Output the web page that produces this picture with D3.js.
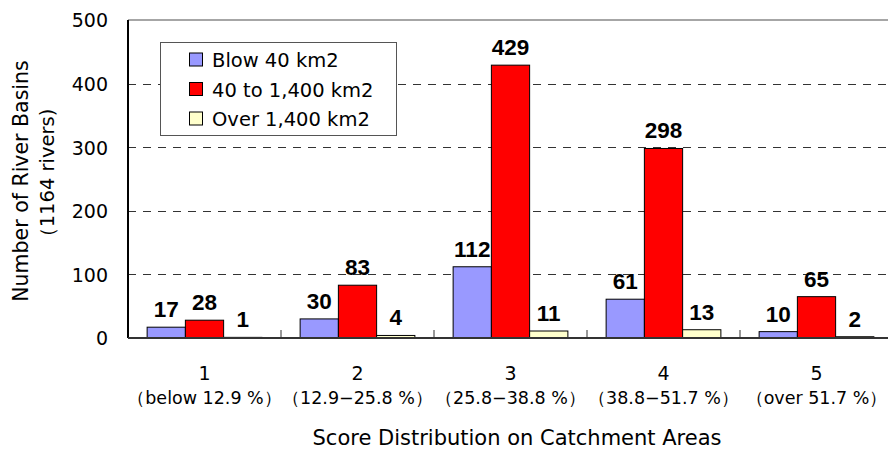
<!DOCTYPE html>
<html><head><meta charset="utf-8">
<script src="https://cdn.jsdelivr.net/npm/d3@7"></script>
<style>body{margin:0;background:#fff}</style>
</head><body>
<svg id="c" width="888" height="450"></svg>
<script>
const categories = ["1","2","3","4","5"];
const catSub = ["（below 12.9 %）","（12.9−25.8 %）","（25.8−38.8 %）","（38.8−51.7 %）","（over 51.7 %）"];
const seriesNames = ["Blow 40 km2","40 to 1,400 km2","Over 1,400 km2"];
const below40 = [17,30,112,61,10];
const mid = [28,83,429,298,65];
const over = [1,4,11,13,2];
const yTicks = [0,100,200,300,400,500];
const colors = ["#9999FF","#FF0000","#FFFFCC"];
const series = [below40, mid, over];

const svg = d3.select("#c");
const L = 128, R = 893, T = 20, B = 338;
const x0 = d3.scaleBand().domain(categories).range([L,R]).padding(0);
const bw = x0.bandwidth()*0.25;
const y = d3.scaleLinear().domain([0,500]).range([B,T]);
const txtFont = "'DejaVu Sans', sans-serif";
const boldFont = "'Liberation Sans', Arial, sans-serif";

// gridlines
svg.append("g").selectAll("line").data(yTicks.filter(d=>d>0&&d<500)).join("line")
  .attr("x1",L).attr("x2",888).attr("y1",d=>Math.round(y(d))+0.5).attr("y2",d=>Math.round(y(d))+0.5)
  .attr("stroke","#333").attr("stroke-width",1).attr("stroke-dasharray","8,7");
// top line
svg.append("line").attr("x1",L).attr("x2",888).attr("y1",y(500)).attr("y2",y(500))
  .attr("stroke","#888").attr("stroke-width",1.5);

// bars
categories.forEach((c,i)=>{
  const cx = x0(c)+x0.bandwidth()/2;
  series.forEach((s,j)=>{
    const bx = cx - 1.5*bw + j*bw;
    svg.append("rect").attr("x",bx).attr("y",y(s[i])).attr("width",bw).attr("height",B-y(s[i]))
      .attr("fill",colors[j]).attr("stroke","#000").attr("stroke-width",1);
    svg.append("text").attr("x",bx+bw/2).attr("y",y(s[i])-10).attr("text-anchor","middle")
      .attr("font-family",boldFont).attr("font-weight","bold").attr("font-size",22.5)
      .text(s[i]);
  });
});

// axes
const yAxis = d3.axisLeft(y).tickValues(yTicks).tickSize(0).tickPadding(20);
const gy = svg.append("g").attr("transform",`translate(${L},0)`).call(yAxis);
gy.select(".domain").remove();
gy.selectAll("text").attr("font-family",txtFont).attr("font-size",19).attr("fill","#000").attr("dy","0.36em");
svg.append("line").attr("x1",L).attr("x2",L).attr("y1",T).attr("y2",B).attr("stroke","#000").attr("stroke-width",2);
svg.append("line").attr("x1",L).attr("x2",888).attr("y1",B).attr("y2",B).attr("stroke","#333").attr("stroke-width",2);
// category ticks (inward)
svg.append("g").selectAll("line").data(categories.slice(1)).join("line")
  .attr("x1",d=>x0(d)).attr("x2",d=>x0(d)).attr("y1",B).attr("y2",B-8)
  .attr("stroke","#333").attr("stroke-width",1);

// category labels
categories.forEach((c,i)=>{
  const cx = x0(c)+x0.bandwidth()/2;
  svg.append("text").attr("x",cx).attr("y",380).attr("text-anchor","middle")
    .attr("font-family",txtFont).attr("font-size",19).text(c);
  svg.append("text").attr("x",cx).attr("y",404).attr("text-anchor","middle")
    .attr("font-family",txtFont).attr("font-size",17.5).text(catSub[i]);
});

// axis titles
svg.append("text").attr("x",517).attr("y",445).attr("text-anchor","middle")
  .attr("font-family",txtFont).attr("font-size",21).text("Score Distribution on Catchment Areas");
svg.append("text").attr("transform","translate(28,181) rotate(-90)").attr("text-anchor","middle")
  .attr("font-family",txtFont).attr("font-size",20.5).text("Number of River Basins");
svg.append("text").attr("transform","translate(54,178) rotate(-90)").attr("text-anchor","middle")
  .attr("font-family",txtFont).attr("font-size",19.5).text("（1164 rivers)");

// legend
const lg = svg.append("g");
lg.append("rect").attr("x",160.5).attr("y",42.5).attr("width",236).attr("height",93)
  .attr("fill","#fff").attr("stroke","#555").attr("stroke-width",1);
seriesNames.forEach((n,j)=>{
  const yy = 60 + j*29.5;
  lg.append("rect").attr("x",189.5).attr("y",yy-7).attr("width",13).attr("height",13)
    .attr("fill",colors[j]).attr("stroke","#000").attr("stroke-width",1);
  lg.append("text").attr("x",212).attr("y",yy).attr("dy","0.36em")
    .attr("font-family",txtFont).attr("font-size",19.5).text(n);
});
</script>
</body></html>
